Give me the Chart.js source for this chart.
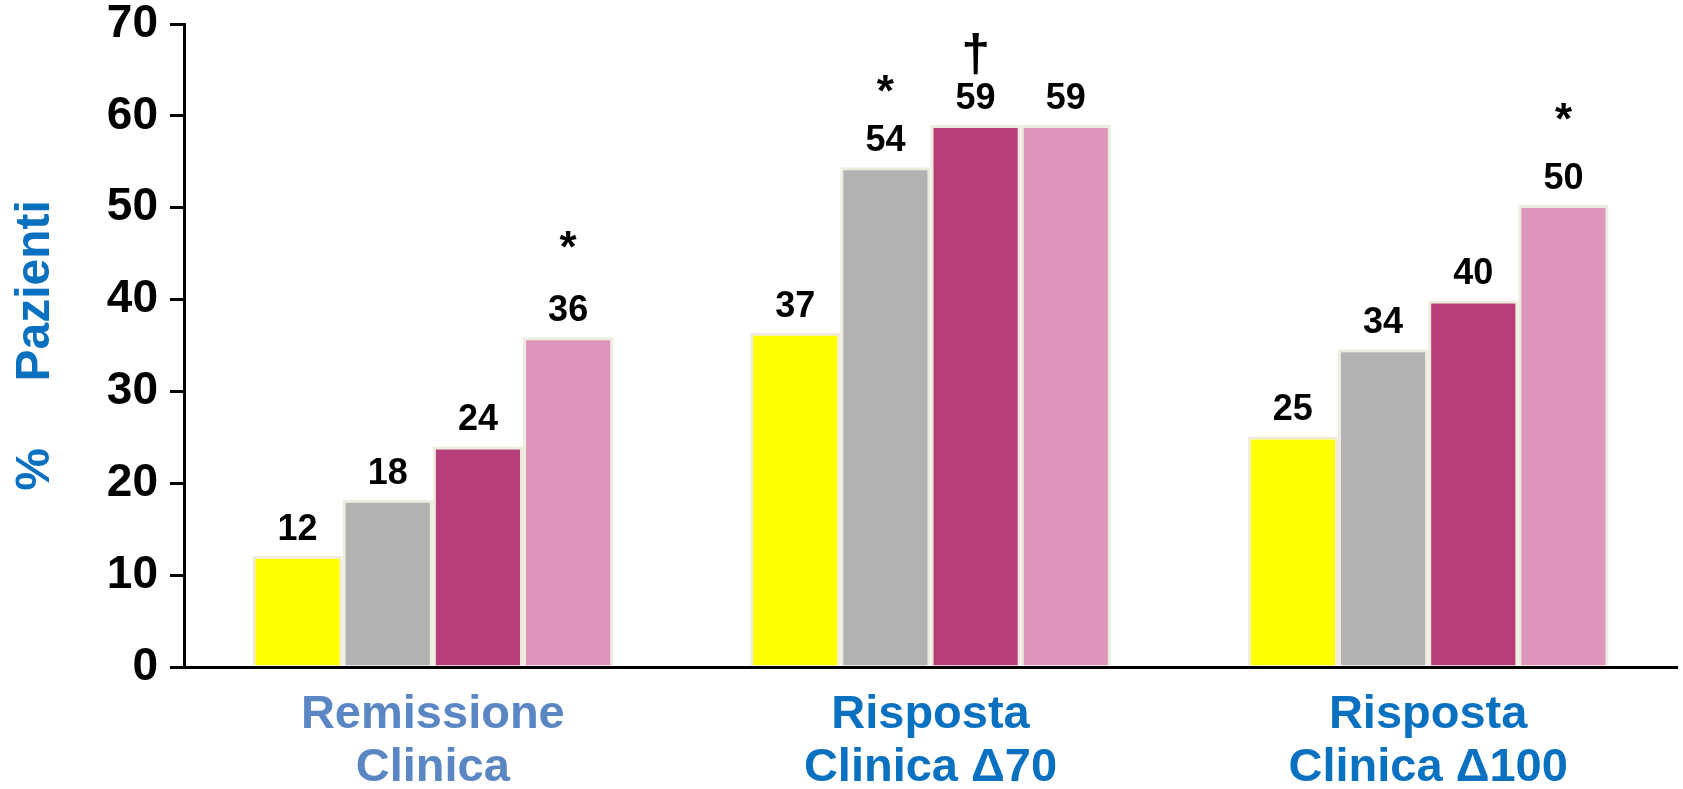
<!DOCTYPE html>
<html>
<head>
<meta charset="utf-8">
<script src="https://cdn.jsdelivr.net/npm/chart.js@4/dist/chart.umd.min.js"></script>
<style>
  html, body { margin: 0; padding: 0; background: #ffffff; }
  #wrap { width: 1683px; height: 789px; position: relative; }
</style>
</head>
<body>
<div id="wrap"><canvas id="bars"></canvas></div>
<script>
// categories (multi line labels)
const categories = [
  ['Remissione', 'Clinica'],
  ['Risposta', 'Clinica \u039470'],
  ['Risposta', 'Clinica \u0394100']
];
const yTicks = [0, 10, 20, 30, 40, 50, 60, 70];

// bar heights, one array per series
const serie1 = [12.1, 36.4, 25.1];
const serie2 = [18.2, 54.4, 34.6];
const serie3 = [24.0, 59.0, 39.9];
const serie4 = [35.9, 59.0, 50.3];

// printed values above the bars
const labels1 = ['12', '37', '25'];
const labels2 = ['18', '54', '34'];
const labels3 = ['24', '59', '40'];
const labels4 = ['36', '59', '50'];

// significance marks and the level (in % units) where they sit
const marks2 = [null, '*', null];
const marks3 = [null, '\u2020', null];
const marks4 = ['*', null, '*'];
const markLevel2 = [null, 63.4, null];
const markLevel3 = [null, 66.9, null];
const markLevel4 = [46.4, null, 60.3];

const FONT = "'Liberation Sans', Arial, Helvetica, sans-serif";
const colors = ['#ffff00', '#b2b2b2', '#b73d78', '#dd96ba'];
const edge = '#eeebdf';

const series = [
  { data: serie1, labels: labels1, marks: [null, null, null], levels: [null, null, null] },
  { data: serie2, labels: labels2, marks: marks2, levels: markLevel2 },
  { data: serie3, labels: labels3, marks: marks3, levels: markLevel3 },
  { data: serie4, labels: labels4, marks: marks4, levels: markLevel4 }
];

// draws the numbers and the * / dagger above the bars
const barText = {
  id: 'barText',
  afterDatasetsDraw(chart) {
    const ctx = chart.ctx;
    const yScale = chart.scales.y;
    ctx.save();
    ctx.fillStyle = '#000000';
    ctx.textAlign = 'center';
    series.forEach((s, i) => {
      const meta = chart.getDatasetMeta(i);
      meta.data.forEach((bar, j) => {
        ctx.font = 'bold 36px ' + FONT;
        ctx.textBaseline = 'middle';
        ctx.fillText(s.labels[j], bar.x, bar.y - 26);
        if (s.marks[j]) {
          const isDagger = s.marks[j] !== '*';
          ctx.font = 'bold ' + (isDagger ? 52 : 44) + 'px ' + FONT;
          ctx.fillText(s.marks[j], bar.x, yScale.getPixelForValue(s.levels[j]) + (isDagger ? 4 : 9));
        }
      });
    });
    ctx.restore();
  }
};

const data = {
  labels: categories,
  datasets: series.map((s, i) => ({
    data: s.data,
    backgroundColor: colors[i],
    borderColor: edge,
    borderWidth: 3,
    categoryPercentage: 0.725,
    barPercentage: 1.0
  }))
};

const options = {
  responsive: true,
  maintainAspectRatio: false,
  animation: false,
  layout: { padding: { top: 24, right: 6, bottom: 0, left: 0 } },
  plugins: {
    legend: { display: false },
    tooltip: { enabled: false }
  },
  scales: {
    x: {
      z: 1,
      grid: { display: false, drawTicks: false },
      border: { display: true, color: '#000000', width: 3 },
      ticks: {
        autoSkip: false,
        maxRotation: 0,
        padding: 21,
        font: { family: FONT, size: 47, weight: 'bold', lineHeight: 1.13 },
        color: (c) => (c.index === 0 ? '#5a86c3' : '#0a70c0')
      },
      afterFit(scale) {
        scale.height = 122;
        scale.paddingLeft = 0;
        scale.paddingRight = 0;
      }
    },
    y: {
      min: 0,
      max: 70,
      afterBuildTicks(scale) {
        scale.ticks = yTicks.map(v => ({ value: v }));
      },
      grid: {
        drawOnChartArea: false,
        drawTicks: true,
        tickLength: 14,
        color: '#000000',
        lineWidth: 3
      },
      border: { display: true, color: '#000000', width: 3 },
      ticks: {
        padding: 12,
        color: '#000000',
        font: { family: FONT, size: 46, weight: 'bold', lineHeight: 1.0 }
      },
      title: {
        display: true,
        text: '%\u00a0\u00a0\u00a0\u00a0\u00a0Pazienti',
        color: '#0a70c0',
        padding: { top: 12, bottom: 0 },
        font: { family: FONT, size: 48, weight: 'bold', lineHeight: 1.0 }
      },
      afterFit(scale) {
        scale.width = 184;
        scale.paddingTop = 0;
        scale.paddingBottom = 0;
      }
    }
  }
};

new Chart(document.getElementById('bars').getContext('2d'), {
  type: 'bar',
  data,
  options,
  plugins: [barText]
});
</script>
</body>
</html>
